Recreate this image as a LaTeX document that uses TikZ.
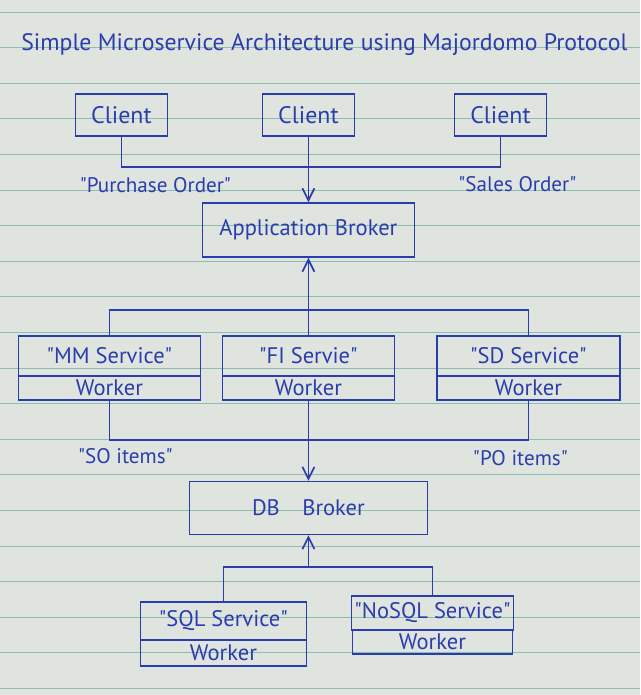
\documentclass[tikz,border=0pt]{standalone}
\usepackage{fontspec}
\setmainfont{PT Sans}
\usepackage{xcolor}
\usepackage{tikz}
\usetikzlibrary{positioning, arrows.meta}
\definecolor{mdInk}{HTML}{2B3DAE}
\definecolor{mdPaper}{HTML}{DFE4DE}
\definecolor{mdRule}{HTML}{8DBDB0}
\newcommand{\quoted}[1]{\textquotedbl#1\textquotedbl}
\tikzset{
  pen/.style={draw=mdInk, line width=1.2pt},
  box/.style={
    rectangle, pen,
    inner sep=2pt,
    minimum width=#1,
    align=center, text=mdInk,
    font=\fontsize{16}{18}\selectfont
  },
  clientbox/.style={box=2.3cm, minimum height=1.05cm, font=\fontsize{17}{19}\selectfont},
  brokerbox/.style={box=#1, minimum height=1.35cm},
  svcbox/.style={box=#1, minimum height=1.0cm},
  workerbox/.style={box=#1, minimum height=0.6cm, inner sep=1pt},
  link/.style={pen, line cap=round},
  arrow/.style={pen, -{Straight Barb[length=3mm, width=3mm]}},
  note/.style={text=mdInk, font=\fontsize{15}{17}\selectfont},
  rule/.style={draw=mdRule, line width=0.6pt}
}

\begin{document}
\begin{tikzpicture}[x=0.025cm, y=-0.025cm]
        % paper
        \fill[mdPaper] (0,0) rectangle (640,695);
        \foreach \k in {0,...,19}
          \draw[rule] (0,{12+35.6*\k}) -- (640,{12+35.6*\k});
        \node[text=mdInk, font=\fontsize{16.9}{20}\selectfont] (title) at (324,45) {Simple Microservice Architecture using Majordomo Protocol};
        % clients
        \node[clientbox] (client1) at (121,115) {Client};
        \node[clientbox] (client2) at (308,115) {Client};
        \node[clientbox] (client3) at (500,115) {Client};
        \node[brokerbox=5.3cm] (appbroker) at (308,230) {Application Broker};
        \coordinate (clientjoin) at (308,167);
        \draw[link] (client1.south) |- (clientjoin) -| (client3.south);
        \draw[arrow] (client2.south) -- (appbroker.north);
        \node[note] (po) at (155,185) {\quoted{Purchase Order}};
        \node[note] (so) at (517,184) {\quoted{Sales Order}};
        % services
        \node[svcbox=4.55cm] (mm) at (109,356) {\quoted{MM Service}};
        \node[workerbox=4.55cm, below=-1.2pt of mm] (mmworker) {Worker};
        \node[svcbox=4.3cm] (fi) at (308,356) {\quoted{FI Servie}};
        \node[workerbox=4.3cm, below=-1.2pt of fi] (fiworker) {Worker};
        \node[svcbox=4.58cm] (sd) at (528,356) {\quoted{SD Service}};
        \node[workerbox=4.58cm, below=-1.2pt of sd] (sdworker) {Worker};
        \coordinate (svcjoin) at (308,310);
        \draw[link] (mm.north) |- (svcjoin) -| (sd.north);
        \draw[arrow] (fi.north) -- (appbroker.south);
        \coordinate (itemjoin) at (308,440);
        \draw[link] (mmworker.south) |- (itemjoin) -| (sdworker.south);
        \node[note] (soitems) at (125,456) {\quoted{SO items}};
        \node[note] (poitems) at (520,458) {\quoted{PO items}};
        % db layer
        \node[brokerbox=5.95cm, minimum height=1.32cm] (dbbroker) at (308,508) {DB\quad Broker};
        \draw[arrow] (fiworker.south) -- (dbbroker.north);
        \node[svcbox=4.15cm, minimum height=0.95cm] (sql) at (223,621) {\quoted{SQL Service}};
        \node[workerbox=4.15cm, minimum height=0.65cm, below=-1.2pt of sql] (sqlworker) {Worker};
        \node[svcbox=4.0cm, minimum height=0.85cm] (nosql) at (432,613) {\quoted{NoSQL Service}};
        \node[workerbox=4.0cm, below=-1.2pt of nosql] (nosqlworker) {Worker};
        \coordinate (dbjoin) at (308,567);
        \draw[link] (sql.north) |- (dbjoin) -| (nosql.north);
        \draw[arrow] (dbjoin) -- (dbbroker.south);
      \end{tikzpicture}
\end{document}
